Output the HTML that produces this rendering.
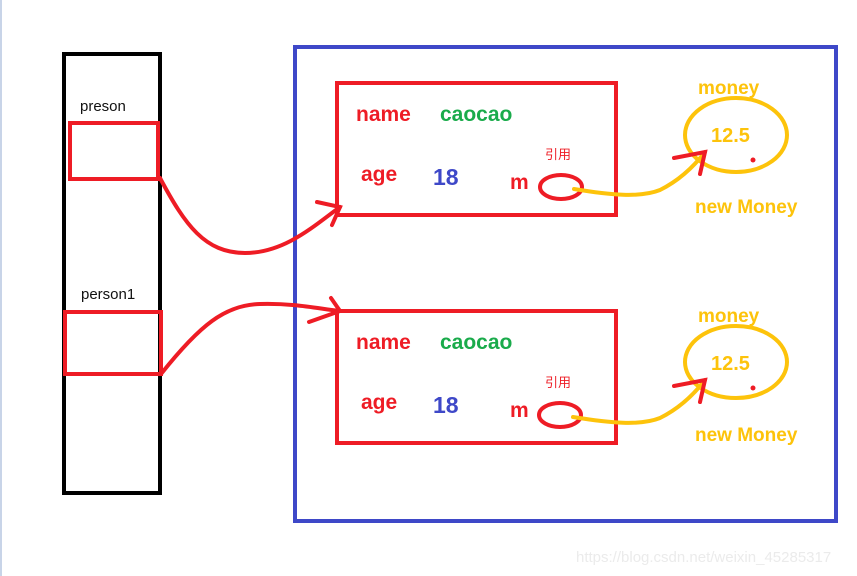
<!DOCTYPE html>
<html><head><meta charset="utf-8"><style>
html,body{margin:0;padding:0;background:#fff;width:857px;height:576px;overflow:hidden}
svg{display:block}
</style></head><body>
<svg width="857" height="576" viewBox="0 0 857 576" xmlns="http://www.w3.org/2000/svg">
<rect x="0" y="0" width="2" height="576" fill="#c8d4e8"/>
<rect x="64" y="54" width="96" height="439" fill="none" stroke="#000" stroke-width="4"/>
<rect x="295" y="47" width="541" height="474" fill="none" stroke="#3e48c8" stroke-width="4"/>
<g font-family="'Liberation Sans',sans-serif" font-size="15" fill="#111">
<text x="80" y="111">preson</text>
<text x="81" y="299">person1</text>
</g>
<rect x="70" y="123" width="88" height="56" fill="none" stroke="#ee1c25" stroke-width="4"/>
<rect x="65" y="312" width="96" height="62" fill="none" stroke="#ee1c25" stroke-width="4"/>
<g fill="none" stroke="#ee1c25" stroke-width="4" stroke-linecap="round">
<rect x="337" y="83" width="279" height="132"/>
<rect x="337" y="311" width="279" height="132"/>
<path d="M160 178 C185 225 205 253 245 253 C285 253 315 225 340 207"/>
<path d="M317 202 L340 207 L332 225"/>
<path d="M161 374 C200 325 225 305 260 304 C295 303 320 309 340 311"/>
<path d="M331 298 L340 311 L309 322"/>
<ellipse cx="561" cy="187" rx="21" ry="12"/>
<ellipse cx="560" cy="415" rx="21" ry="12"/>
</g>
<g fill="none" stroke="#fdc30b" stroke-width="4" stroke-linecap="round">
<ellipse cx="736" cy="135" rx="51" ry="37"/>
<ellipse cx="736" cy="362" rx="51" ry="36"/>
<path d="M574 189 C610 195 640 198 660 190 C680 180 695 165 705 152"/>
<path d="M573 417 C610 423 640 426 660 418 C680 408 695 393 705 380"/>
</g>
<g fill="none" stroke="#ee1c25" stroke-width="4" stroke-linecap="round">
<path d="M674 158 L705 152 L700 174"/>
<path d="M674 386 L705 380 L700 402"/>
</g>
<circle cx="753" cy="160" r="2.5" fill="#ee1c25"/>
<circle cx="753" cy="388" r="2.5" fill="#ee1c25"/>
<g font-family="'Liberation Sans',sans-serif" font-weight="bold" font-size="21">
<text x="356" y="121" fill="#ee1c25">name</text>
<text x="440" y="121" fill="#1aab4b">caocao</text>
<text x="361" y="181" fill="#ee1c25">age</text>
<text x="433" y="185" fill="#3e48c8" font-size="23">18</text>
<text x="510" y="189" fill="#ee1c25">m</text>
<text x="356" y="349" fill="#ee1c25">name</text>
<text x="440" y="349" fill="#1aab4b">caocao</text>
<text x="361" y="409" fill="#ee1c25">age</text>
<text x="433" y="413" fill="#3e48c8" font-size="23">18</text>
<text x="510" y="417" fill="#ee1c25">m</text>
</g>
<g font-family="'Liberation Sans','Noto Sans CJK SC',sans-serif" font-size="13" fill="#ee1c25">
<text x="545" y="159">引用</text>
<text x="545" y="387">引用</text>
</g>
<g font-family="'Liberation Sans',sans-serif" font-weight="bold" font-size="19" fill="#fdc30b">
<text x="698" y="94">money</text>
<text x="711" y="142" font-size="20">12.5</text>
<text x="695" y="213">new Money</text>
<text x="698" y="322">money</text>
<text x="711" y="370" font-size="20">12.5</text>
<text x="695" y="441">new Money</text>
</g>
<text x="576" y="562" font-family="'Liberation Sans',sans-serif" font-size="15" fill="#ebebeb">https://blog.csdn.net/weixin_45285317</text>
</svg>
</body></html>
